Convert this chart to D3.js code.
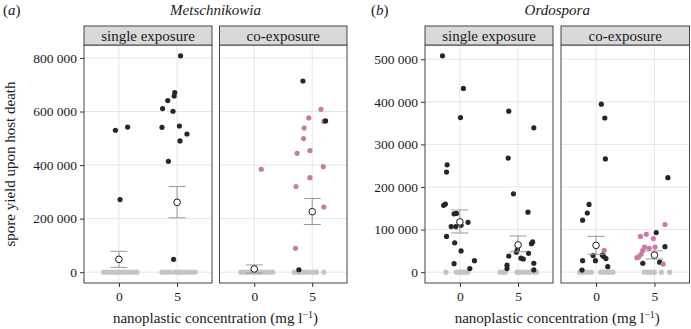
<!DOCTYPE html>
<html><head><meta charset="utf-8">
<script src="https://cdn.jsdelivr.net/npm/d3@7"></script>
<style>
body{margin:0;background:#fff}
svg{display:block}
svg text{font-family:"Liberation Serif","DejaVu Serif",serif !important;fill:#1a1a1a}
</style>
</head><body><svg id="chart" width="691" height="329" font-family="Liberation Serif"></svg>
<script>
// ---------------- data ----------------
const concentrations = ["0", "5"];
const exposures = ["single exposure", "co-exposure"];
const parasites = ["Metschnikowia", "Ordospora"];
const panelTags = ["a", "b"];
const yTicksMet = [0, 200000, 400000, 600000, 800000];
const yTicksOrd = [0, 100000, 200000, 300000, 400000, 500000];
const yTitle = "spore yield upon host death";
const xTitle = "nanoplastic concentration (mg l";

// each row: [concentration, horizontal jitter (category units), spore yield, co-infected host (1) or not (0)]
const metSingle = [
  ["0",-0.26,0,0],["0",-0.21,0,0],["0",-0.16,0,0],["0",-0.11,0,0],["0",-0.06,0,0],["0",-0.01,0,0],
  ["0",0.04,0,0],["0",0.09,0,0],["0",0.14,0,0],["0",0.2,0,0],["0",0.26,0,0],["0",0.31,0,0],
  ["5",-0.26,0,0],["5",-0.21,0,0],["5",-0.16,0,0],["5",-0.11,0,0],["5",-0.03,0,0],["5",0.03,0,0],
  ["5",0.08,0,0],["5",0.13,0,0],["5",0.19,0,0],["5",0.25,0,0],["5",0.31,0,0],
  ["0",-0.06,530000,0],["0",0.15,542000,0],["0",0.02,271000,0],
  ["5",0.06,808000,0],["5",-0.04,671000,0],["5",-0.05,658000,0],["5",-0.16,641000,0],
  ["5",-0.25,611000,0],["5",-0.07,601000,0],["5",-0.26,541000,0],["5",0.04,546000,0],
  ["5",0.17,516000,0],["5",0.05,490000,0],["5",-0.15,414000,0],["5",-0.06,48000,0]
];
const metCo = [
  ["0",-0.23,0,0],["0",-0.18,0,0],["0",-0.13,0,0],["0",-0.08,0,0],["0",-0.03,0,0],["0",0.02,0,0],
  ["0",0.07,0,0],["0",0.12,0,0],["0",0.17,0,0],["0",0.22,0,0],["0",0.27,0,0],["0",0.32,0,0],
  ["5",-0.31,0,0],["5",-0.26,0,0],["5",-0.21,0,0],["5",-0.16,0,0],["5",-0.11,0,0],["5",-0.05,0,0],
  ["5",0.02,0,0],["5",0.07,0,0],["5",0.2,0,0],
  ["0",0.12,384000,1],
  ["5",-0.16,714000,0],["5",0.15,608000,1],["5",0.2,563000,1],["5",0.23,565000,0],
  ["5",-0.06,576000,1],["5",-0.14,538000,1],["5",-0.15,499000,1],["5",-0.04,454000,1],
  ["5",-0.26,444000,1],["5",0.19,394000,1],["5",-0.04,353000,1],["5",-0.28,320000,1],
  ["5",0.2,243000,1],["5",-0.29,89000,1],["5",-0.23,9000,0]
];
const ordSingle = [
  ["0",-0.24,0,0],["0",-0.06,0,0],["0",-0.02,0,0],["0",0.02,0,0],["0",0.06,0,0],["0",0.1,0,0],["0",0.13,0,0],
  ["5",-0.31,0,0],["5",-0.27,0,0],["5",-0.22,0,0],["5",-0.02,0,0],["5",0.03,0,0],["5",0.08,0,0],
  ["5",0.13,0,0],["5",0.2,0,0],["5",0.27,0,0],["5",0.32,0,0],
  ["0",-0.30,508000,0],["0",0.06,431500,0],["0",0.01,363000,0],["0",-0.22,252000,0],["0",-0.23,235000,0],
  ["0",-0.28,157000,0],["0",-0.25,160000,0],["0",-0.10,137000,0],["0",-0.06,138000,0],["0",0.14,117000,0],
  ["0",-0.15,107000,0],["0",-0.07,107000,0],["0",0.02,110000,0],["0",-0.23,84000,0],["0",-0.09,69000,0],
  ["0",0.02,50000,0],["0",0.25,27000,0],["0",-0.10,20000,0],["0",0.17,8500,0],
  ["5",-0.16,378000,0],["5",0.27,339000,0],["5",-0.17,268000,0],["5",-0.08,184000,0],["5",0.17,141000,0],
  ["5",0.25,71000,0],["5",0.23,67000,0],["5",-0.01,53000,0],["5",-0.03,47000,0],["5",0.18,44000,0],
  ["5",-0.16,38000,0],["5",0.05,33000,0],["5",0.09,31000,0],["5",-0.19,16500,0],["5",-0.19,8500,0],
  ["5",0.27,21000,0],["5",0.27,5400,0]
];
const ordCo = [
  ["0",-0.28,0,0],["0",-0.24,0,0],["0",-0.19,0,0],["0",-0.14,0,0],["0",-0.08,0,0],
  ["0",0.08,0,0],["0",0.13,0,0],["0",0.18,0,0],["0",0.23,0,0],["0",0.29,0,0],
  ["5",-0.17,0,0],["5",-0.12,0,0],["5",-0.07,0,0],["5",-0.02,0,0],["5",0.0,0,0],["5",0.12,0,0],["5",0.26,0,0],
  ["0",0.09,394500,0],["0",0.15,362000,0],["0",0.16,266000,0],["0",-0.12,159000,0],["0",-0.15,139000,0],
  ["0",-0.23,122000,0],["0",0.14,51000,1],["0",-0.05,39000,0],["0",0.11,40000,0],["0",0.13,37000,0],
  ["0",0.17,32000,0],["0",-0.23,27000,0],["0",-0.01,27000,0],["0",0.2,13000,0],["0",-0.24,5000,0],
  ["5",0.23,222000,0],["5",0.18,112000,1],["5",0.03,93000,0],["5",-0.14,89000,1],["5",-0.24,84000,1],
  ["5",-0.02,79000,1],["5",-0.17,59000,1],["5",-0.09,56000,1],["5",0.01,59000,1],["5",0.18,60000,0],
  ["5",-0.2,51000,1],["5",-0.23,42000,1],["5",-0.27,36000,1],["5",-0.30,34000,1],["5",0.09,23600,0],
  ["5",0.15,19000,1],["5",-0.2,21000,0]
];
// summary rows: [concentration, mean, lower (mean - se), upper (mean + se)]
const metSingleSummary = [["0",48000,18000,78000],["5",261000,203000,320000]];
const metCoSummary     = [["0",12000,-3000,27000],["5",226000,178000,275000]];
const ordSingleSummary = [["0",118000,92000,146000],["5",64000,48000,85000]];
const ordCoSummary     = [["0",63000,42000,84000],["5",40000,31000,50000]];

// ---------------- drawing ----------------
const svg = d3.select("#chart");
const SERIF = '"Liberation Serif", "DejaVu Serif", serif';
const colZero = "#c4c4c4", colInf = "#262626", colCo = "#cc79a7";
const fmt = v => d3.format(",")(v).replace(/,/g, " ");
const panelTop = 45, panelBottom = 283, stripTop = 26;

const groups = [
  {tag: panelTags[0], name: parasites[0], ticks: yTicksMet, yTitle: true,
   facets: [{x0: 84, x1: 212, pts: metSingle, sum: metSingleSummary},
            {x0: 219.5, x1: 347, pts: metCo, sum: metCoSummary}], tagX: 3},
  {tag: panelTags[1], name: parasites[1], ticks: yTicksOrd, yTitle: false,
   facets: [{x0: 425, x1: 553, pts: ordSingle, sum: ordSingleSummary},
            {x0: 561, x1: 689.5, pts: ordCo, sum: ordCoSummary}], tagX: 371}
];

groups.forEach(g => {
  const allVals = g.facets.flatMap(f => f.pts.map(p => p[2]));
  const maxV = d3.max(allVals), pad = maxV * 0.05;
  const y = d3.scaleLinear().domain([-pad, maxV + pad]).range([panelBottom, panelTop]);
  const left = g.facets[0].x0, right = g.facets[1].x1;

  // titles
  const t = svg.append("text").attr("x", g.tagX).attr("y", 15).style("font-size", "15px");
  t.append("tspan").text("(");
  t.append("tspan").text(g.tag).style("font-style", "italic");
  t.append("tspan").text(")");
  svg.append("text").attr("x", (left + right) / 2).attr("y", 15).attr("text-anchor", "middle")
    .style("font-size", "15px").style("font-style", "italic").text(g.name);

  // y axis (left facet only)
  const ya = svg.append("g").attr("transform", `translate(${left},0)`)
    .call(d3.axisLeft(y).tickValues(g.ticks).tickSize(4).tickPadding(3).tickFormat(fmt));
  ya.attr("font-family", SERIF);
  ya.select(".domain").remove();
  ya.selectAll(".tick line").attr("stroke", "#333");
  ya.selectAll(".tick text").style("font-size", "13.5px").style("font-family", SERIF).attr("fill", "#1a1a1a");

  g.facets.forEach((f, fi) => {
    const x = d3.scaleLinear().domain([0.4, 2.6]).range([f.x0, f.x1]);
    const xi = c => concentrations.indexOf(c) + 1;
    const pg = svg.append("g");
    // background + grid
    pg.append("rect").attr("x", f.x0).attr("y", panelTop).attr("width", f.x1 - f.x0)
      .attr("height", panelBottom - panelTop).attr("fill", "#fff");
    pg.selectAll(".gy").data(g.ticks).join("line")
      .attr("x1", f.x0).attr("x2", f.x1).attr("y1", d => y(d)).attr("y2", d => y(d))
      .attr("stroke", "#e6e6e6").attr("stroke-width", 1);
    pg.selectAll(".gx").data(concentrations).join("line")
      .attr("x1", d => x(xi(d))).attr("x2", d => x(xi(d)))
      .attr("y1", panelTop).attr("y2", panelBottom)
      .attr("stroke", "#e6e6e6").attr("stroke-width", 1);

    // points
    pg.selectAll(".pt").data(f.pts).join("circle")
      .attr("cx", d => x(xi(d[0]) + d[1])).attr("cy", d => y(d[2])).attr("r", 2.6)
      .attr("fill", d => d[2] === 0 ? colZero : (d[3] ? colCo : colInf));

    // error bars
    f.sum.forEach(s => {
      const cx = x(xi(s[0]));
      pg.append("line").attr("x1", cx).attr("x2", cx).attr("y1", y(s[2])).attr("y2", y(s[3]))
        .attr("stroke", "#9a9a9a").attr("stroke-width", 1);
      [s[2], s[3]].forEach(v => pg.append("line").attr("x1", cx - 8.5).attr("x2", cx + 8.5)
        .attr("y1", y(v)).attr("y2", y(v)).attr("stroke", "#9a9a9a").attr("stroke-width", 1));
      pg.append("circle").attr("cx", cx).attr("cy", y(s[1])).attr("r", 3.3)
        .attr("fill", "#fff").attr("stroke", "#1a1a1a").attr("stroke-width", 1);
    });

    // border
    pg.append("rect").attr("x", f.x0).attr("y", panelTop).attr("width", f.x1 - f.x0)
      .attr("height", panelBottom - panelTop).attr("fill", "none").attr("stroke", "#444").attr("stroke-width", 1);
    // strip
    pg.append("rect").attr("x", f.x0).attr("y", stripTop).attr("width", f.x1 - f.x0)
      .attr("height", panelTop - stripTop).attr("fill", "#d9d9d9").attr("stroke", "#444").attr("stroke-width", 1);
    pg.append("text").attr("x", (f.x0 + f.x1) / 2).attr("y", (stripTop + panelTop) / 2 + 5)
      .attr("text-anchor", "middle").style("font-size", "15px").style("font-family", SERIF).text(exposures[fi]);

    // x axis
    const xa = svg.append("g").attr("transform", `translate(0,${panelBottom})`)
      .call(d3.axisBottom(x).tickValues([1, 2]).tickSize(4).tickPadding(4).tickFormat(d => concentrations[d - 1]));
    xa.attr("font-family", SERIF);
    xa.select(".domain").remove();
    xa.selectAll(".tick line").attr("stroke", "#333");
    xa.selectAll(".tick text").style("font-size", "13.5px").style("font-family", SERIF).attr("fill", "#1a1a1a");
  });

  // x title
  const xt = svg.append("text").attr("x", (left + right) / 2).attr("y", 323).attr("text-anchor", "middle")
    .style("font-size", "15px").style("font-family", SERIF);
  xt.append("tspan").text(xTitle);
  xt.append("tspan").text("\u22121").attr("dy", -5).style("font-size", "10px");
  xt.append("tspan").text(")").attr("dy", 5);

  if (g.yTitle) {
    svg.append("text").attr("transform", `translate(15,${(panelTop + panelBottom) / 2}) rotate(-90)`)
      .attr("text-anchor", "middle").style("font-size", "15px").style("font-family", SERIF).text(yTitle);
  }
});
</script>
</body></html>
